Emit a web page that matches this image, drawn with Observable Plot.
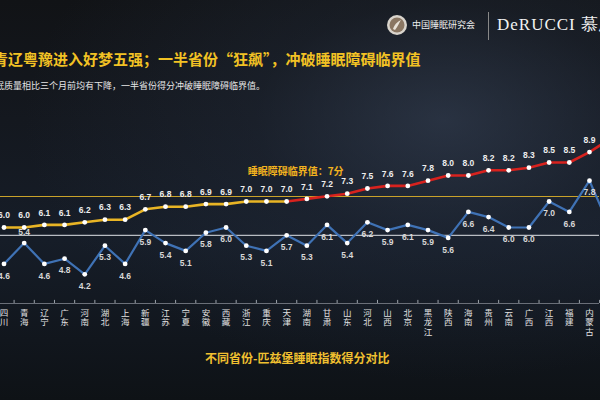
<!DOCTYPE html>
<html><head><meta charset="utf-8">
<script src="https://cdn.jsdelivr.net/npm/d3@7"></script>
<script src="https://cdn.jsdelivr.net/npm/@observablehq/plot@0.6"></script>
<style>
html,body{margin:0;padding:0;width:600px;height:400px;overflow:hidden;background:#0f1218;}
#wrap{position:relative;width:600px;height:400px;overflow:hidden;
 background:
  radial-gradient(ellipse 420px 260px at 74% 30%, rgba(62,76,100,0.5) 0%, rgba(40,50,68,0.3) 45%, rgba(0,0,0,0) 100%),
  linear-gradient(180deg,#111316 0%,#14181f 30%,#161d28 60%,#11161d 85%,#0e1216 100%);
 font-family:"Noto Sans CJK SC","Noto Sans",sans-serif;}
#chart{position:absolute;left:0;top:0;}
#chart svg{overflow:hidden;}
.title{position:absolute;left:-7px;top:50px;font-size:15px;line-height:18px;font-weight:bold;color:#f2c224;white-space:nowrap;}
.sub{position:absolute;left:-14px;top:80px;font-size:9px;line-height:11px;color:#e6e6e6;white-space:nowrap;}
.foot{position:absolute;left:205px;top:350px;font-size:12px;line-height:15px;font-weight:bold;color:#f0c030;white-space:nowrap;}
.org{position:absolute;left:412px;top:19px;font-size:9px;line-height:12px;color:#eee;white-space:nowrap;}
.divider{position:absolute;left:488px;top:12px;width:1px;height:28px;background:#888;}
.brand{position:absolute;left:497px;top:14px;font-family:"Liberation Serif","DejaVu Serif",serif;font-size:17px;line-height:22px;letter-spacing:1px;color:#f2f2f2;white-space:nowrap;}
.logo{position:absolute;left:386px;top:14px;}
</style></head><body>
<div id="wrap">
 <div id="chart"></div>
 <svg class="logo" width="22" height="22" viewBox="0 0 22 22">
  <circle cx="11" cy="11" r="10" fill="#d9d4cc"/>
  <circle cx="11" cy="11" r="7.5" fill="#8a7662"/>
  <path d="M7 15 C9 9,13 7,15 6 C13 9,12 12,9 16 Z" fill="#e8e2d8"/>
 </svg>
 <div class="org">中国睡眠研究会</div>
 <div class="divider"></div>
 <div class="brand">DeRUCCI 慕思</div>
 <div class="title">青辽粤豫进入好梦五强；一半省份“狂飙”，冲破睡眠障碍临界值</div>
 <div class="sub">睡眠质量相比三个月前均有下降，一半省份得分冲破睡眠障碍临界值。</div>
 <div class="foot">不同省份-匹兹堡睡眠指数得分对比</div>
</div>
<script>
const provinces = ["四川","青海","辽宁","广东","河南","湖北","上海","新疆","江苏","宁夏","安徽","西藏","浙江","重庆","天津","湖南","甘肃","山东","河北","山西","北京","黑龙江","陕西","海南","贵州","云南","广西","江西","福建","内蒙古"];
const currentScores = [6.0,6.0,6.1,6.1,6.2,6.3,6.3,6.7,6.8,6.8,6.9,6.9,7.0,7.0,7.0,7.1,7.2,7.3,7.5,7.6,7.6,7.8,8.0,8.0,8.2,8.2,8.3,8.5,8.5,8.9];
const earlierScores = [4.6,5.4,4.6,4.8,4.2,5.3,4.6,5.9,5.4,5.1,5.8,6.0,5.3,5.1,5.7,5.3,6.1,5.4,6.2,5.9,6.1,5.9,5.6,6.6,6.4,6.0,6.0,7.0,6.6,7.8];
// next province, only partly visible at the right edge
const nextCurrent = 9.4;
const nextEarlier = 6.0;
const threshold = 7;
const thresholdLabel = "睡眠障碍临界值：7分";
const earlierAverage = 5.7;
const redFrom = "天津";
const earlierLabelAbove = ["青海"];

const n = provinces.length;
const redIdx = provinces.indexOf(redFrom);
const cur = currentScores.map((v,i)=>({i,v,name:provinces[i]}));
const curAll = cur.concat([{i:n,v:nextCurrent}]);
const ear = earlierScores.map((v,i)=>({i,v,name:provinces[i]}));
const earAll = ear.concat([{i:n,v:nextEarlier}]);
const yellowPart = curAll.filter(d=>d.i<=redIdx);
const redPart = curAll.filter(d=>d.i>=redIdx);
const earBelow = ear.filter(d=>!earlierLabelAbove.includes(d.name));
const earAbove = ear.filter(d=>earlierLabelAbove.includes(d.name));
const catLabels = provinces.map((p,i)=>({i,t:p.split("").join("\n")}));
const gaps = provinces.map((p,i)=>i+0.5);
const fmt = d=>d.v.toFixed(1);

const chart = Plot.plot({
  width:600, height:400,
  style:{background:"transparent",overflow:"hidden"},
  x:{type:"linear",domain:[0,n-1],range:[3.5,589],axis:null},
  y:{domain:[3,10],range:[305,123],axis:null},
  marks:[
    Plot.ruleY([3],{stroke:"#6a6f78",strokeWidth:1,dy:-2}),
    Plot.ruleX(gaps,{x:d=>d,y1:3,y2:3.12,stroke:"#9aa0a8",strokeWidth:1,dy:-2}),
    Plot.ruleY([threshold],{stroke:"#c9a22a",strokeWidth:1.2,dy:-5}),
    Plot.ruleY([earlierAverage],{stroke:"#b8bcc2",strokeWidth:1.2}),
    Plot.line(earAll,{x:"i",y:"v",stroke:"#3f72b5",strokeWidth:2.2}),
    Plot.line(yellowPart,{x:"i",y:"v",stroke:"#e9b525",strokeWidth:2.6}),
    Plot.line(redPart,{x:"i",y:"v",stroke:"#d8221e",strokeWidth:2.6}),
    Plot.dot(cur,{x:"i",y:"v",r:2.4,fill:"#ffffff"}),
    Plot.dot(ear,{x:"i",y:"v",r:2.4,fill:"#ffffff"}),
    Plot.text(cur,{x:"i",y:"v",text:fmt,dy:-12,fill:"#eeeeee",fontSize:8.5,fontWeight:"bold",fontFamily:"Liberation Sans, Arial, sans-serif"}),
    Plot.text(earBelow,{x:"i",y:"v",text:fmt,dy:12,fill:"#d8d8d8",fontSize:8.5,fontWeight:"bold",fontFamily:"Liberation Sans, Arial, sans-serif"}),
    Plot.text(earAbove,{x:"i",y:"v",text:fmt,dy:-11,fill:"#d8d8d8",fontSize:8.5,fontWeight:"bold",fontFamily:"Liberation Sans, Arial, sans-serif"}),
    Plot.text([thresholdLabel],{x:()=>redIdx,y:()=>threshold,text:d=>d,dx:9,dy:-30,fill:"#f2b21e",fontSize:10,fontWeight:"bold",fontFamily:"Noto Sans CJK SC, sans-serif"}),
    Plot.text(catLabels,{x:"i",y:()=>3,text:"t",dy:4,lineAnchor:"top",lineHeight:1.1,fill:"#e2e2e2",fontSize:8.5,fontFamily:"Noto Sans CJK SC, sans-serif"})
  ]
});
document.getElementById("chart").appendChild(chart);
</script>
</body></html>
